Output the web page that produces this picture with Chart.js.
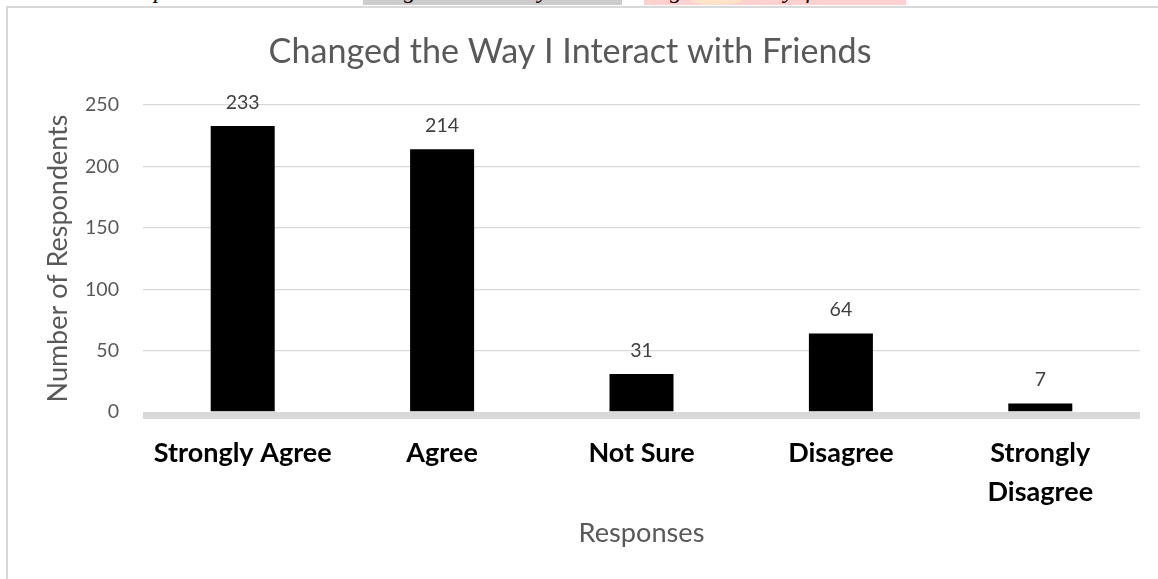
<!DOCTYPE html>
<html>
<head>
<meta charset="utf-8">
<script src="https://cdn.jsdelivr.net/npm/chart.js@4.4.1/dist/chart.umd.min.js"></script>
<style>
html, body { margin: 0; padding: 0; background: #fff; width: 1158px; height: 579px; overflow: hidden; }
#strip { position: absolute; left: 0; top: 0; width: 1158px; height: 6px; overflow: hidden; }
.hl { position: absolute; top: 0; height: 5px; }
.frag { position: absolute; top: -22px; font: italic 24px/24px "Liberation Serif", serif; color: #000; }
#frame { position: absolute; left: 6px; top: 6px; width: 1220px; height: 620px;
         border-left: 2px solid #d9d9d9; border-top: 2px solid #d9d9d9; }
#chartBox { position: absolute; left: 0; top: 0; width: 1176px; height: 579px; }
</style>
</head>
<body>
<!-- bottom edge of the document line above the chart -->
<div id="strip">
  <div class="hl" style="left:363px;width:259px;background:#cccccc"></div>
  <div class="hl" style="left:644px;width:262px;background:#ffd0d0"></div>
  <div class="hl" style="left:690px;width:52px;border-radius:50%;height:10px;top:-5px;background:#ffe3c8"></div>
  <span class="frag" style="left:154px">p</span>
  <span class="frag" style="left:404px">g</span>
  <span class="frag" style="left:538px">y</span>
  <span class="frag" style="left:670px">g</span>
  <span class="frag" style="left:784px">y</span>
  <span class="frag" style="left:806px">f</span>
</div>
<div id="frame"></div>
<div id="chartBox"><canvas id="myChart" width="1176" height="579"></canvas></div>

<script>
var chartTitle = 'Changed the Way I Interact with Friends';
var categories = ['Strongly Agree', 'Agree', 'Not Sure', 'Disagree', ['Strongly', 'Disagree']];
var respondents = [233, 214, 31, 64, 7];
var yTicks = [0, 50, 100, 150, 200, 250];
var yAxisTitle = 'Number of Respondents';
var xAxisTitle = 'Responses';

// pick Lato sizes so the texts take the same width as in the picture
var measureCtx = document.createElement('canvas').getContext('2d');
function fitSize(text, weight, width) {
    measureCtx.font = weight + ' 100px Lato';
    return 100 * width / measureCtx.measureText(text).width;
}
var titleSize = fitSize(chartTitle, 'normal', 603);
var yTitleSize = fitSize(yAxisTitle, 'normal', 288);
var catSize = fitSize('Strongly Agree', 'bold', 178);
var xTitleSize = fitSize(xAxisTitle, 'normal', 126);
var tickSize = fitSize('250', 'normal', 34);

var titleTop = 52 - titleSize * 0.6;

// value labels above the bars and the thick grey base line
var barExtras = {
    id: 'barExtras',
    afterDatasetsDraw: function (chart) {
        var ctx = chart.ctx;
        var area = chart.chartArea;
        ctx.save();
        ctx.fillStyle = '#d9d9d9';
        ctx.fillRect(area.left, area.bottom, area.right - area.left, 7);
        ctx.fillStyle = '#404040';
        ctx.font = tickSize + 'px Lato';
        ctx.textAlign = 'center';
        ctx.textBaseline = 'alphabetic';
        chart.getDatasetMeta(0).data.forEach(function (bar, i) {
            ctx.fillText(String(respondents[i]), bar.x, bar.y - 17);
        });
        ctx.restore();
    }
};

var ctx = document.getElementById('myChart');
myChart = new Chart(ctx, {
    type: 'bar',
    data: {
        labels: categories,
        datasets: [{
            label: yAxisTitle,
            data: respondents,
            backgroundColor: '#000000',
            borderWidth: 0,
            barPercentage: 0.321,
            categoryPercentage: 1
        }]
    },
    options: {
        responsive: false,
        animation: false,
        layout: { padding: { left: 0, right: 36, top: 0, bottom: 0 } },
        plugins: {
            legend: { display: false },
            tooltip: { enabled: false },
            title: {
                display: true,
                text: chartTitle,
                color: '#595959',
                font: { family: 'Lato', size: titleSize, weight: 'normal', lineHeight: 1.2 },
                padding: { top: titleTop, bottom: 105 - titleTop - titleSize * 1.2 }
            }
        },
        scales: {
            x: {
                grid: { display: false, drawTicks: false },
                border: { display: false },
                ticks: {
                    color: '#000000',
                    font: { family: 'Lato', size: catSize, weight: 'bold', lineHeight: 1.45 },
                    padding: 41 - catSize * 0.725,
                    maxRotation: 0,
                    autoSkip: false
                },
                title: {
                    display: true,
                    text: xAxisTitle,
                    color: '#595959',
                    font: { family: 'Lato', size: xTitleSize, weight: 'normal', lineHeight: 1.2 },
                    padding: { top: 0, bottom: 46 - xTitleSize * 0.6 }
                },
                afterFit: function (scale) { scale.height = 167; }
            },
            y: {
                min: 0,
                max: 250,
                afterBuildTicks: function (scale) {
                    scale.ticks = yTicks.map(function (v) { return { value: v }; });
                },
                grid: {
                    drawTicks: false,
                    lineWidth: 1.3,
                    color: function (c) { return c.tick && c.tick.value === 0 ? 'rgba(0,0,0,0)' : '#d9d9d9'; }
                },
                border: { display: false },
                ticks: {
                    color: '#595959',
                    font: { family: 'Lato', size: tickSize, weight: 'normal' },
                    padding: 24
                },
                title: {
                    display: true,
                    text: yAxisTitle,
                    color: '#595959',
                    font: { family: 'Lato', size: yTitleSize, weight: 'normal', lineHeight: 1.2 },
                    padding: { top: 74 - yTitleSize * 1.2, bottom: 0 }
                },
                afterFit: function (scale) { scale.width = 143; }
            }
        }
    },
    plugins: [barExtras]
});
</script>
</body>
</html>
